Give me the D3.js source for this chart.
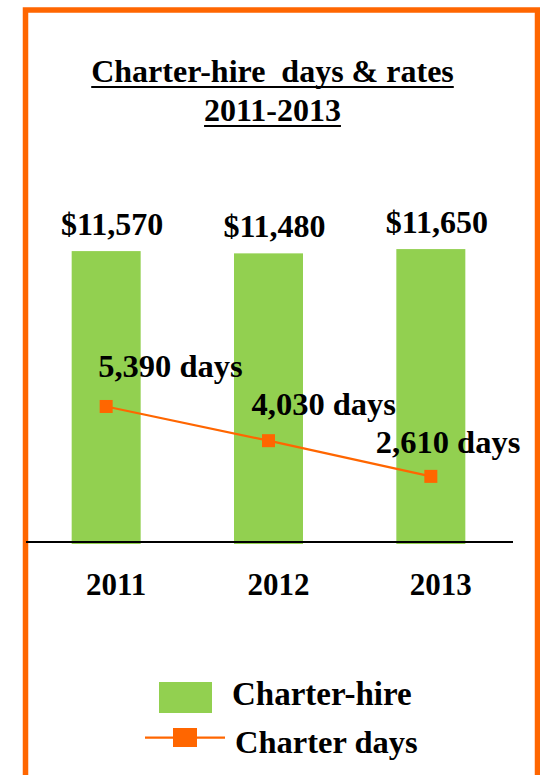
<!DOCTYPE html>
<html>
<head>
<meta charset="utf-8">
<script src="https://cdn.jsdelivr.net/npm/d3@7"></script>
<style>
  body { margin: 0; background: #fff; }
  svg text { font-family: 'Liberation Serif', 'Times New Roman', serif; font-weight: bold; fill: #000; }
</style>
</head>
<body>
<svg id="chart" width="540" height="775"></svg>
<script>
// data
const years = ['2011', '2012', '2013'];
const charterHire = [11570, 11480, 11650];
const charterDays = [5390, 4030, 2610];
const hireLabels = ['$11,570', '$11,480', '$11,650'];
const dayLabels = ['5,390 days', '4,030 days', '2,610 days'];
const yTicks = [0, 14000];

const green = '#92D050';
const orange = '#FF6600';

const svg = d3.select('#chart');

// frame
svg.append('rect')
  .attr('x', 25.5).attr('y', 10)
  .attr('width', 512).attr('height', 820)
  .attr('fill', 'none')
  .attr('stroke', orange)
  .attr('stroke-width', 5.5);

// title, underlined
const titleLines = [
  { text: 'Charter-hire  days & rates', y: 82 },
  { text: '2011-2013', y: 121 },
];
titleLines.forEach((t) => {
  const txt = svg.append('text')
    .attr('x', 272.5).attr('y', t.y)
    .attr('text-anchor', 'middle')
    .style('white-space', 'pre')
    .style('font-size', '32px')
    .text(t.text);
  const w = txt.node().getComputedTextLength();
  svg.append('line')
    .attr('x1', 272.5 - w / 2).attr('x2', 272.5 + w / 2)
    .attr('y1', t.y + 5).attr('y2', t.y + 5)
    .attr('stroke', '#000').attr('stroke-width', 2);
});

// scales
const x = d3.scaleBand()
  .domain(years)
  .range([25, 512])
  .paddingInner(0.575)
  .paddingOuter(0.2875);

const y = d3.scaleLinear()
  .domain(d3.extent(yTicks))
  .range([542, 190]);

// bars
svg.append('g')
  .selectAll('rect')
  .data(years)
  .join('rect')
  .attr('x', (d) => x(d))
  .attr('width', x.bandwidth())
  .attr('y', (d, i) => y(charterHire[i]))
  .attr('height', (d, i) => y(0) - y(charterHire[i]) + 2)
  .attr('fill', green);

// bar value labels
svg.append('g')
  .selectAll('text')
  .data(years)
  .join('text')
  .attr('x', (d) => x(d) + x.bandwidth() / 2 + 6)
  .attr('y', (d, i) => y(charterHire[i]) - 16)
  .attr('text-anchor', 'middle')
  .style('font-size', '32px')
  .text((d, i) => hireLabels[i]);

// x axis
const xAxis = svg.append('g')
  .attr('transform', `translate(0,${y(0)})`)
  .call(d3.axisBottom(x).tickSize(0).tickSizeOuter(0));
xAxis.select('.domain')
  .attr('d', `M26,0H513`)
  .attr('stroke', '#000')
  .attr('stroke-width', 2);
xAxis.selectAll('.tick text')
  .attr('dy', null)
  .attr('y', 53)
  .attr('x', 10)
  .attr('font-family', null)
  .attr('font-size', null)
  .style('font-size', '31px');

// charter days line
const cx = (d) => x(d) + x.bandwidth() / 2;
const line = d3.line()
  .x((d) => cx(d))
  .y((d, i) => y(charterDays[i]));

svg.append('path')
  .datum(years)
  .attr('d', line)
  .attr('fill', 'none')
  .attr('stroke', orange)
  .attr('stroke-width', 2.25);

svg.append('g')
  .selectAll('rect')
  .data(years)
  .join('rect')
  .attr('x', (d) => cx(d) - 6.5)
  .attr('y', (d, i) => y(charterDays[i]) - 6.5)
  .attr('width', 13)
  .attr('height', 13)
  .attr('fill', orange);

// day labels, placed by hand like the original
const dayNudge = [[-8, -29], [-17, -26], [-55, -23]];
svg.append('g')
  .selectAll('text')
  .data(years)
  .join('text')
  .attr('x', (d, i) => cx(d) + dayNudge[i][0])
  .attr('y', (d, i) => y(charterDays[i]) + dayNudge[i][1])
  .style('font-size', '32.5px')
  .text((d, i) => dayLabels[i]);

// legend
const legend = svg.append('g');
legend.append('rect')
  .attr('x', 159).attr('y', 682)
  .attr('width', 53).attr('height', 31)
  .attr('fill', green);
legend.append('text')
  .attr('x', 232).attr('y', 705)
  .style('font-size', '33px')
  .text('Charter-hire');
legend.append('line')
  .attr('x1', 145).attr('x2', 225)
  .attr('y1', 737.5).attr('y2', 737.5)
  .attr('stroke', orange).attr('stroke-width', 2.25);
legend.append('rect')
  .attr('x', 173).attr('y', 728)
  .attr('width', 24).attr('height', 19)
  .attr('fill', orange);
legend.append('text')
  .attr('x', 235).attr('y', 753)
  .style('font-size', '32.5px')
  .text('Charter days');
</script>
</body>
</html>
